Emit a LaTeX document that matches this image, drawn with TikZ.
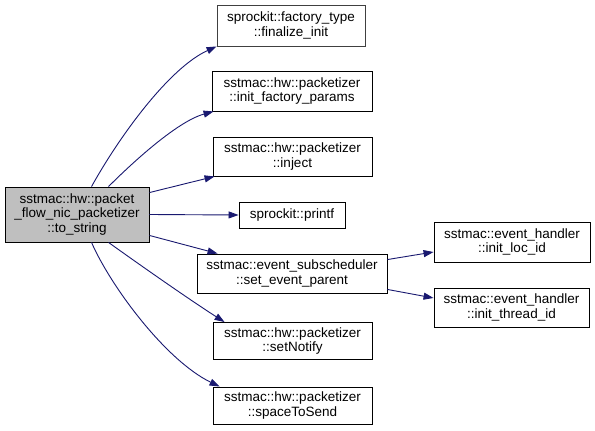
\documentclass[tikz,border=0pt]{standalone}
\usepackage{fontspec}
\setmainfont{Liberation Sans}
\usetikzlibrary{arrows.meta}
\definecolor{edgeblue}{HTML}{191970}
\definecolor{maingray}{HTML}{BFBFBF}
\begin{document}
\begin{tikzpicture}[x=1pt,y=-1pt,
  box/.style={draw=black,line width=0.9pt,fill=white,rectangle,inner sep=0pt,align=center,
    font=\fontsize{13.5pt}{14.5pt}\selectfont},
  edge/.style={draw=edgeblue,line width=0.9pt,-{Triangle[length=10pt,width=7pt]}}]
\useasboundingbox[fill=white] (0,0) rectangle (595,431);
\node[box,fill=maingray,minimum width=144pt,minimum height=55pt] (main) at (77,214.5)
  {sstmac::hw::packet\\\_flow\_nic\_packetizer\\::to\_string};
\node[box,draw=black!75,minimum width=148pt,minimum height=41pt] (fin) at (291,25.5)
  {sprockit::factory\_type\\::finalize\_init};
\node[box,minimum width=160pt,minimum height=40pt] (ifp) at (292,91)
  {sstmac::hw::packetizer\\::init\_factory\_params};
\node[box,minimum width=159pt,minimum height=39pt] (inj) at (292.5,156.5)
  {sstmac::hw::packetizer\\::inject};
\node[box,minimum width=106pt,minimum height=26pt] (prt) at (292,215)
  {sprockit::printf};
\node[box,minimum width=190pt,minimum height=39pt] (sep) at (292,273.5)
  {sstmac::event\_subscheduler\\::set\_event\_parent};
\node[box,minimum width=156pt,minimum height=40pt] (loc) at (512,242)
  {sstmac::event\_handler\\::init\_loc\_id};
\node[box,minimum width=155pt,minimum height=39pt] (thr) at (511.5,307.5)
  {sstmac::event\_handler\\::init\_thread\_id};
\node[box,minimum width=159pt,minimum height=37pt] (sn) at (292.5,341)
  {sstmac::hw::packetizer\\::setNotify};
\node[box,minimum width=159pt,minimum height=37pt] (sts) at (292.5,405.5)
  {sstmac::hw::packetizer\\::spaceToSend};
\draw[edge] ([xshift=87pt]main.north west) .. controls (119,137) and (169,68) .. (fin.south west);
\draw[edge] ([xshift=104pt]main.north west) .. controls (125,170) and (175,122) .. ([xshift=2pt]ifp.south west);
\draw[edge] ([yshift=-6pt]main.north east) -- ([xshift=2pt]inj.south west);
\draw[edge] (main.east) -- (prt.west);
\draw[edge] ([yshift=7pt]main.south east) -- ([xshift=21pt]sep.north west);
\draw[edge] ([xshift=104pt]main.south west) .. controls (140,265) and (190,300) .. ([xshift=12pt]sn.north west);
\draw[edge] ([xshift=87pt]main.south west) .. controls (110,285) and (165,360) .. ([xshift=7pt]sts.north west);
\draw[edge] ([yshift=-6pt]sep.north east) -- ([yshift=-10pt]loc.west);
\draw[edge] ([yshift=4pt]sep.south east) -- ([yshift=9.5pt]thr.west);
\end{tikzpicture}
\end{document}
